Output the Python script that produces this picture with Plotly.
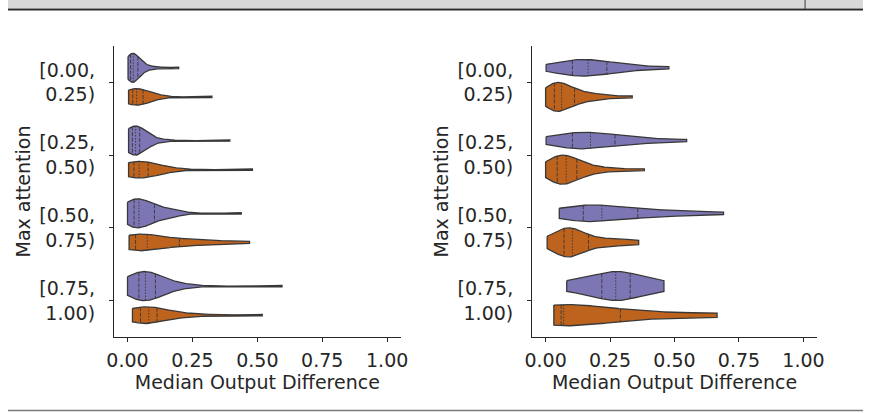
import numpy as np
import plotly.graph_objects as go
from plotly.subplots import make_subplots

# Category labels (max attention bins) and x ticks
categories = ["[0.00,<br>0.25)", "[0.25,<br>0.50)", "[0.50,<br>0.75)", "[0.75,<br>1.00)"]
x_ticks = [0.0, 0.25, 0.5, 0.75, 1.0]
hue_colors = ["#7C76B4", "#BE631D"]
edge_color = "#383838"

# Median output difference samples, left panel, first hue (per category)
left_hue0 = [
    [0.002, 0.004, 0.006, 0.008, 0.009, 0.010, 0.011, 0.012, 0.013, 0.015, 0.016, 0.018, 0.020, 0.021,
     0.023, 0.025, 0.027, 0.030, 0.033, 0.036, 0.039, 0.043, 0.048, 0.055, 0.065, 0.085, 0.120, 0.197],
    [0.004, 0.007, 0.010, 0.012, 0.014, 0.016, 0.018, 0.019, 0.021, 0.023, 0.025, 0.027, 0.029, 0.030,
     0.032, 0.034, 0.036, 0.038, 0.041, 0.044, 0.046, 0.050, 0.055, 0.062, 0.072, 0.090, 0.150, 0.394],
    [0.000, 0.006, 0.010, 0.014, 0.017, 0.020, 0.023, 0.026, 0.029, 0.032, 0.035, 0.038, 0.041, 0.043,
     0.045, 0.050, 0.056, 0.063, 0.072, 0.085, 0.100, 0.115, 0.125, 0.138, 0.152, 0.170, 0.190, 0.438],
    [0.000, 0.008, 0.016, 0.024, 0.030, 0.036, 0.040, 0.045, 0.050, 0.054, 0.058, 0.062, 0.065, 0.068,
     0.070, 0.074, 0.078, 0.084, 0.090, 0.097, 0.105, 0.115, 0.128, 0.142, 0.160, 0.185, 0.240, 0.595],
]

# Left panel, second hue
left_hue1 = [
    [0.004, 0.010, 0.015, 0.018, 0.021, 0.025, 0.030, 0.033, 0.037, 0.042, 0.048, 0.057, 0.068, 0.085, 0.120, 0.325],
    [0.004, 0.010, 0.016, 0.021, 0.026, 0.032, 0.038, 0.042, 0.048, 0.056, 0.065, 0.076, 0.090, 0.115, 0.160, 0.481],
    [0.006, 0.015, 0.022, 0.028, 0.032, 0.040, 0.052, 0.068, 0.084, 0.100, 0.125, 0.190, 0.230, 0.270, 0.330, 0.470],
    [0.019, 0.028, 0.036, 0.044, 0.052, 0.060, 0.068, 0.077, 0.087, 0.096, 0.104, 0.110, 0.125, 0.180, 0.280, 0.519],
]

# Right panel, first hue
right_hue0 = [
    [0.002, 0.045, 0.075, 0.095, 0.107, 0.120, 0.140, 0.158, 0.172, 0.190, 0.210, 0.230, 0.260, 0.300, 0.350, 0.478],
    [0.002, 0.050, 0.078, 0.095, 0.107, 0.125, 0.148, 0.168, 0.180, 0.200, 0.228, 0.260, 0.297, 0.340, 0.400, 0.547],
    [0.053, 0.090, 0.115, 0.135, 0.150, 0.175, 0.195, 0.210, 0.226, 0.250, 0.290, 0.340, 0.410, 0.460, 0.520, 0.690],
    [0.082, 0.120, 0.200, 0.236, 0.252, 0.272, 0.292, 0.316, 0.340, 0.410, 0.459],
]

# Right panel, second hue
right_hue1 = [
    [0.000, 0.008, 0.014, 0.019, 0.024, 0.028, 0.031, 0.035, 0.038, 0.042, 0.046, 0.050, 0.055, 0.059,
     0.065, 0.070, 0.076, 0.083, 0.090, 0.099, 0.108, 0.125, 0.140, 0.158, 0.180, 0.205, 0.240, 0.336],
    [0.000, 0.010, 0.018, 0.025, 0.031, 0.037, 0.042, 0.046, 0.050, 0.055, 0.060, 0.065, 0.070, 0.075,
     0.085, 0.090, 0.095, 0.100, 0.106, 0.112, 0.118, 0.130, 0.145, 0.165, 0.190, 0.220, 0.270, 0.383],
    [0.006, 0.025, 0.038, 0.048, 0.056, 0.062, 0.067, 0.073, 0.078, 0.083, 0.088, 0.093, 0.098, 0.102,
     0.106, 0.111, 0.117, 0.124, 0.132, 0.142, 0.155, 0.200, 0.215, 0.230, 0.262, 0.300, 0.335, 0.361],
    [0.032, 0.055, 0.062, 0.066, 0.074, 0.270, 0.350, 0.665],
]

BW_ADJUST = 1.0
HUE_WIDTH = 0.4      # width of one hue slot in category units
HUE_OFFSETS = [-0.2, 0.2]


def kde(values, grid):
    v = np.asarray(values, dtype=float)
    bw = BW_ADJUST * v.std(ddof=1) * len(v) ** (-1 / 5)
    z = (grid[:, None] - v[None, :]) / bw
    return np.exp(-0.5 * z ** 2).sum(axis=1) / (len(v) * bw * np.sqrt(2 * np.pi))


def add_violin(fig, values, cat, hue, scale, col):
    v = np.asarray(values, dtype=float)
    grid = np.linspace(v.min(), v.max(), 300)
    dens = kde(v, grid)
    half = dens / dens.max() * (HUE_WIDTH / 2) * scale
    center = cat + HUE_OFFSETS[hue]
    xs = np.concatenate([grid, grid[::-1], grid[:1]])
    ys = np.concatenate([center - half, (center + half)[::-1], [center - half[0]]])
    fig.add_trace(go.Scatter(
        x=xs, y=ys, mode="lines", fill="toself", fillcolor=hue_colors[hue],
        line=dict(color=edge_color, width=1.3), hoverinfo="skip", showlegend=False,
    ), row=1, col=col)
    q25, q50, q75 = np.percentile(v, [25, 50, 75])
    for q, dash in ((q25, "4px,1.5px"), (q50, "1.5px,1.5px"), (q75, "4px,1.5px")):
        w = np.interp(q, grid, half)
        fig.add_trace(go.Scatter(
            x=[q, q], y=[center - w, center + w], mode="lines",
            line=dict(color=edge_color, width=0.9, dash=dash),
            hoverinfo="skip", showlegend=False,
        ), row=1, col=col)


fig = make_subplots(rows=1, cols=2)

for col, (h0, h1) in ((1, (left_hue0, left_hue1)), (2, (right_hue0, right_hue1))):
    for cat in range(len(categories)):
        counts = [len(h0[cat]), len(h1[cat])]
        for hue, vals in enumerate((h0[cat], h1[cat])):
            add_violin(fig, vals, cat, hue, counts[hue] / max(counts), col)

W, H = 871, 413
font = dict(family="DejaVu Sans", size=19, color="#262626")
y_dom = [1 - 337 / H, 1 - 46 / H]

axis_common = dict(
    showline=True, linecolor="#262626", linewidth=1.3, ticks="outside", ticklen=4,
    tickwidth=1.2, tickcolor="#262626", showgrid=False, zeroline=False, tickfont=font,
)
x_common = dict(range=[-0.052, 1.052], tickvals=x_ticks, ticktext=[f"{t:.2f}" for t in x_ticks],
                ticklabelstandoff=2,
                title=dict(text="Median Output Difference", font=font, standoff=2), **axis_common)
y_common = dict(domain=y_dom, range=[3.5, -0.5], tickvals=list(range(4)), ticktext=categories,
                ticklabelstandoff=10, title=dict(text="Max attention", font=font, standoff=3), **axis_common)

fig.update_layout(
    width=W, height=H, margin=dict(l=0, r=0, t=0, b=0),
    paper_bgcolor="white", plot_bgcolor="white", showlegend=False, font=font,
    xaxis=dict(domain=[108 / W, 400 / W], **x_common),
    xaxis2=dict(domain=[534 / W, 824 / W], **x_common),
    yaxis=y_common,
    yaxis2=y_common,
)

# Page edges: top strip with rule, bottom rule
fig.add_shape(type="rect", xref="paper", yref="paper", x0=0, x1=1, y0=1 - 8 / H, y1=1,
              fillcolor="#d8d8d8", line=dict(width=0), layer="below")
fig.add_shape(type="line", xref="paper", yref="paper", x0=0, x1=1, y0=1 - 9.5 / H, y1=1 - 9.5 / H,
              line=dict(color="#2a2a2a", width=2))
fig.add_shape(type="line", xref="paper", yref="paper", x0=812 / W, x1=812 / W, y0=1 - 9 / H, y1=1,
              line=dict(color="#3a3a3a", width=1))
fig.add_shape(type="line", xref="paper", yref="paper", x0=0, x1=1, y0=1 - 410.5 / H, y1=1 - 410.5 / H,
              line=dict(color="#7a7a7a", width=1.5))

fig.write_html("out.html")
